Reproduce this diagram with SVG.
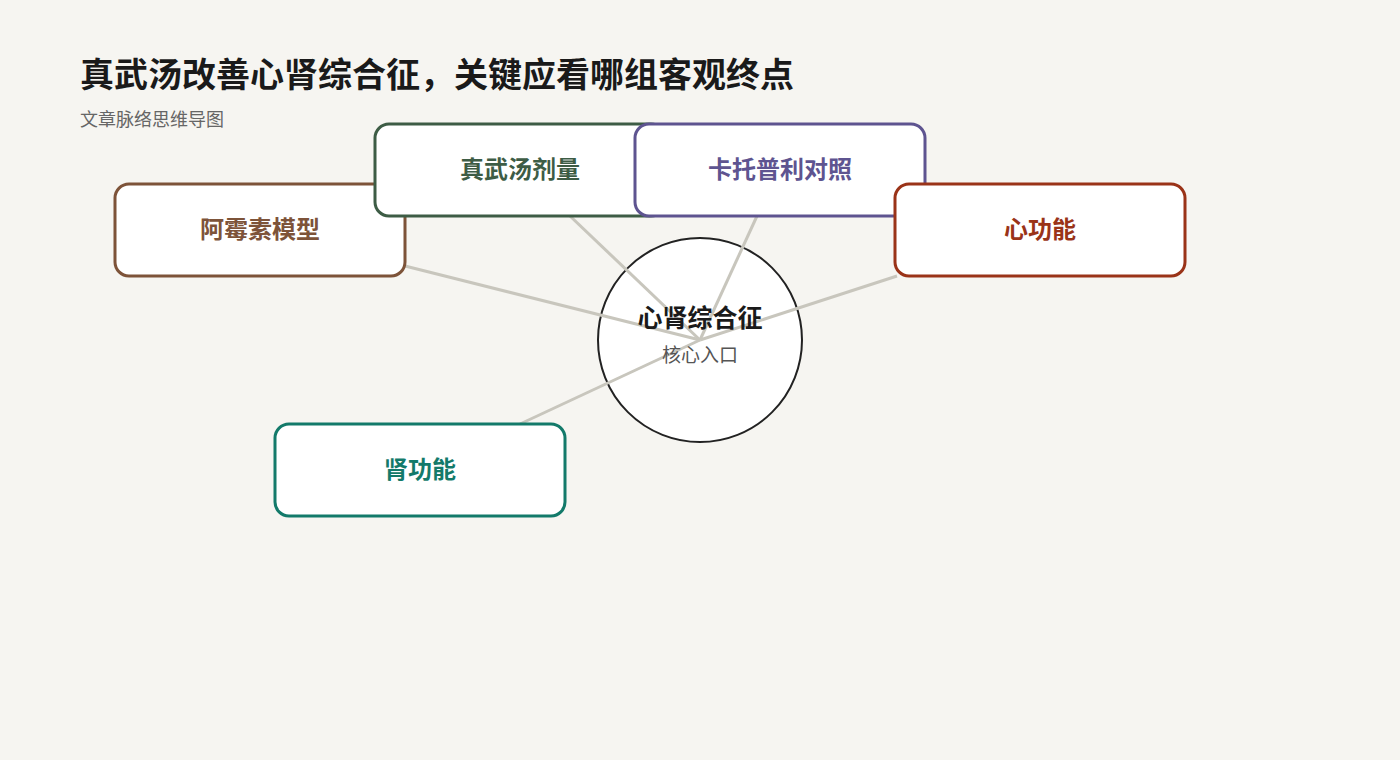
<svg xmlns="http://www.w3.org/2000/svg" width="1400" height="760" viewBox="0 0 1400 760">
<style>
text{font-family:"Noto Sans CJK SC","Noto Sans",sans-serif}
.box{fill:#fff;stroke-width:3}
.lbl{font-size:24px;font-weight:700;text-anchor:middle}
.edge{stroke:#c8c6bd;stroke-width:3;fill:none}
</style>
<rect width="1400" height="760" fill="#f6f5f1"/>
<text x="80" y="87" font-size="34" font-weight="700" fill="#1a1a1a">真武汤改善心肾综合征，关键应看哪组客观终点</text>
<text x="80" y="126" font-size="18" fill="#666">文章脉络思维导图</text>
<g id="center">
<circle cx="700" cy="340" r="102" fill="#fff" stroke="#222" stroke-width="2"/>
</g>
<g id="connectors">
<line class="edge" x1="700" y1="340" x2="405" y2="266"/>
<line class="edge" x1="700" y1="340" x2="570" y2="216"/>
<line class="edge" x1="700" y1="340" x2="757" y2="216"/>
<line class="edge" x1="700" y1="340" x2="897" y2="276"/>
<line class="edge" x1="700" y1="340" x2="520" y2="424"/>
</g>
<g id="center-text">
<text x="700" y="327" font-size="25" font-weight="700" text-anchor="middle" fill="#1a1a1a">心肾综合征</text>
<text x="700" y="362" font-size="19" text-anchor="middle" fill="#555">核心入口</text>
</g>
<g id="n1"><rect class="box" x="115" y="184" width="290" height="92" rx="14" stroke="#7d5339"/><text class="lbl" x="260" y="238" fill="#7d5339">阿霉素模型</text></g>
<g id="n2"><rect class="box" x="375" y="124" width="290" height="92" rx="14" stroke="#3d5c45"/><text class="lbl" x="520" y="178" fill="#3d5c45">真武汤剂量</text></g>
<g id="n3"><rect class="box" x="635" y="124" width="290" height="92" rx="14" stroke="#5e5490"/><text class="lbl" x="780" y="178" fill="#5e5490">卡托普利对照</text></g>
<g id="n4"><rect class="box" x="895" y="184" width="290" height="92" rx="14" stroke="#9a3318"/><text class="lbl" x="1040" y="238" fill="#9a3318">心功能</text></g>
<g id="n5"><rect class="box" x="275" y="424" width="290" height="92" rx="14" stroke="#137a6a"/><text class="lbl" x="420" y="478" fill="#137a6a">肾功能</text></g>
</svg>
